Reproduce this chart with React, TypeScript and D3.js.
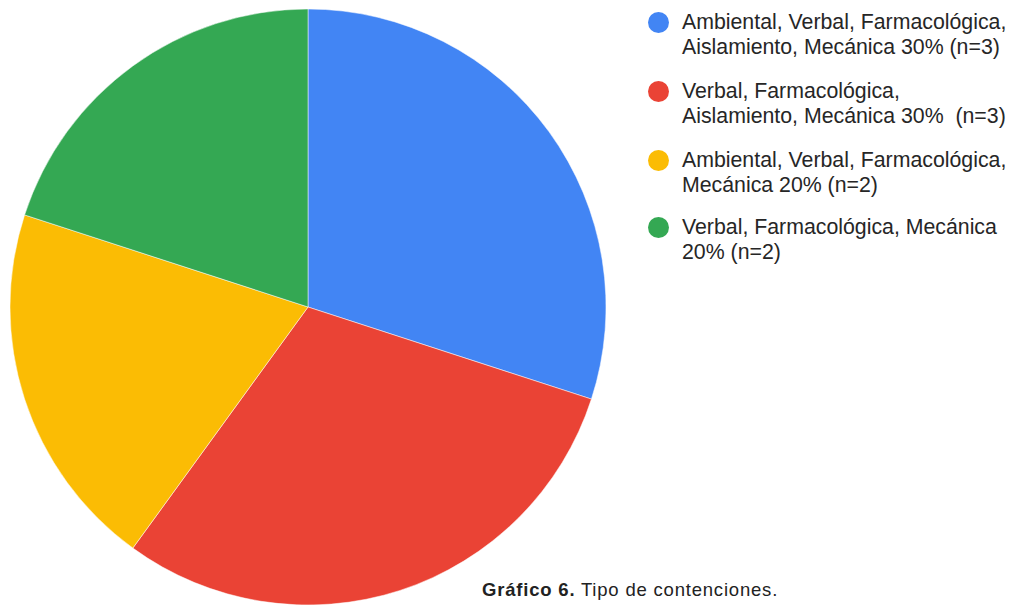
import React from "react";
import * as d3 from "d3";

const categories = [
  ["Ambiental, Verbal, Farmacológica,", "Aislamiento, Mecánica 30% (n=3)"],
  ["Verbal, Farmacológica,", "Aislamiento, Mecánica 30%  (n=3)"],
  ["Ambiental, Verbal, Farmacológica,", "Mecánica 20% (n=2)"],
  ["Verbal, Farmacológica, Mecánica", "20% (n=2)"],
];
const counts = [3, 3, 2, 2];
const colors = ["#4285F4", "#EA4335", "#FBBC04", "#34A853"];
const legendY = [22, 91, 160, 227];

export default function App() {
  const W = 1012, H = 606;
  const cx = 308, cy = 307, r = 298;
  const pie = d3.pie<number>().sort(null).value((d) => d);
  const arcs = pie(counts);
  const arc = d3.arc<d3.PieArcDatum<number>>().innerRadius(0).outerRadius(r);
  return (
    <svg width={W} height={H} style={{ position: "absolute", left: 0, top: 0, background: "#fff" }}>
      <g transform={`translate(${cx},${cy})`}>
        {arcs.map((a, i) => (
          <path key={i} d={arc(a) || ""} fill={colors[i]} stroke="#fff" strokeWidth={0.5} />
        ))}
      </g>
      <g fontFamily="'Liberation Sans', Arial, sans-serif" fontSize={21.3} fill="#262626">
        {categories.map((lines, i) => (
          <g key={i}>
            <circle cx={658.5} cy={legendY[i] + 0.5} r={10.5} fill={colors[i]} />
            {lines.map((t, j) => (
              <text key={j} x={682} y={legendY[i] + j * 25} dy="0.35em" xmlSpace="preserve" style={{ whiteSpace: "pre" }}>
                {t}
              </text>
            ))}
          </g>
        ))}
      </g>
      <text x={482} y={596} fontFamily="'Liberation Sans', Arial, sans-serif" fontSize={18.5} letterSpacing={0.8} fill="#222">
        <tspan fontWeight="bold">Gráfico 6.</tspan>
        <tspan> Tipo de contenciones.</tspan>
      </text>
    </svg>
  );
}
